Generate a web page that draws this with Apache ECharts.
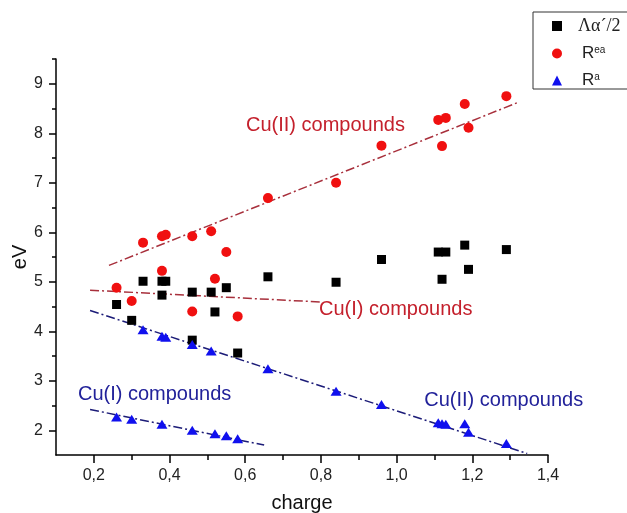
<!DOCTYPE html>
<html>
<head>
<meta charset="utf-8">
<script src="https://cdn.jsdelivr.net/npm/echarts@6/dist/echarts.min.js"></script>
<style>
  html, body { margin: 0; padding: 0; background: #ffffff; }
  #chart { width: 627px; height: 513px; }
</style>
</head>
<body>
<div id="chart"></div>
<script>
// Charge (x) of each compound
const chargeSq = [0.26, 0.30, 0.33, 0.38, 0.39, 0.38, 0.46, 0.46, 0.51, 0.52, 0.55, 0.58, 0.66, 0.84, 0.96, 1.11, 1.13, 1.12, 1.18, 1.19, 1.29];
// Λα´/2 values, eV
const lambdaAlpha = [4.54, 4.22, 5.01, 5.01, 5.01, 4.73, 4.79, 3.82, 4.79, 4.39, 4.88, 3.56, 5.10, 4.99, 5.45, 5.60, 5.60, 5.05, 5.74, 5.25, 5.65];

const chargeRea = [0.26, 0.30, 0.33, 0.38, 0.39, 0.38, 0.46, 0.46, 0.51, 0.52, 0.55, 0.58, 0.66, 0.84, 0.96, 1.11, 1.13, 1.12, 1.18, 1.19, 1.29];
// R^ea values, eV
const rEa = [4.88, 4.61, 5.79, 5.92, 5.95, 5.22, 5.92, 4.40, 6.02, 5.06, 5.60, 4.30, 6.69, 7.00, 7.75, 8.27, 8.31, 7.74, 8.59, 8.11, 8.75];

const chargeRa = [0.26, 0.30, 0.38, 0.46, 0.52, 0.55, 0.58, 0.33, 0.38, 0.39, 0.46, 0.51, 0.66, 0.84, 0.96, 1.11, 1.12, 1.13, 1.18, 1.19, 1.29];
// R^a values, eV
const rA = [2.27, 2.22, 2.12, 2.00, 1.93, 1.89, 1.83, 4.03, 3.90, 3.88, 3.73, 3.60, 3.24, 2.79, 2.52, 2.15, 2.13, 2.12, 2.13, 1.96, 1.73];

// Linear trend lines (end points: charge, eV)
const fitReaCuII = [[0.24, 5.33], [1.32, 8.62]];
const fitReaCuI  = [[0.19, 4.83], [0.80, 4.59]];
const fitRaCuII  = [[0.19, 4.42], [1.345, 1.53]];
const fitRaCuI   = [[0.19, 2.42], [0.65, 1.70]];

// Axis ticks
const xMajor = [0.2, 0.4, 0.6, 0.8, 1.0, 1.2, 1.4];
const xMinor = [0.3, 0.5, 0.7, 0.9, 1.1, 1.3];
const yMajor = [2, 3, 4, 5, 6, 7, 8, 9];
const yMinor = [2.5, 3.5, 4.5, 5.5, 6.5, 7.5, 8.5, 9.5];

// Group annotations: text, anchor (left edge, vertical middle) in data units
const annotations = [
  { text: 'Cu(II) compounds', at: [0.602, 8.16], color: '#c4202c' },
  { text: 'Cu(I) compounds',  at: [0.795, 4.44], color: '#c4202c' },
  { text: 'Cu(I) compounds',  at: [0.158, 2.73], color: '#22229a' },
  { text: 'Cu(II) compounds', at: [1.073, 2.61], color: '#22229a' }
];

const zip = (xs, ys) => xs.map((x, i) => [x, ys[i]]);
const FONT = '"Liberation Sans", Arial, sans-serif';
const RED_LINE = '#a8303c';
const BLUE_LINE = '#1c1c78';
const DASH_DOT = [9, 3, 2, 3];

const chart = echarts.init(document.getElementById('chart'), null, { renderer: 'canvas' });

const baseX = {
  type: 'value', min: 0.1, max: 1.4, interval: 0.1, position: 'bottom',
  splitLine: { show: false }
};
const baseY = {
  type: 'value', min: 1.5, max: 9.5, interval: 0.5, position: 'left',
  splitLine: { show: false }
};

function fitSeries(data, color) {
  return {
    type: 'line', data: data, symbol: 'none', silent: true, z: 1,
    lineStyle: { color: color, width: 1.5, type: DASH_DOT },
    xAxisIndex: 0, yAxisIndex: 0
  };
}

chart.setOption({
  animation: false,
  backgroundColor: '#ffffff',
  grid: { left: 56, right: 79, top: 59, bottom: 58, outerBoundsMode: 'none', containLabel: false },
  xAxis: [
    Object.assign({}, baseX, {
      axisLine: { lineStyle: { color: '#000', width: 1.5 } },
      axisTick: { customValues: xMajor, length: 8, lineStyle: { color: '#000', width: 1.5 } },
      axisLabel: {
        customValues: xMajor, margin: 13, fontSize: 16, color: '#222', fontFamily: FONT,
        formatter: v => v.toFixed(1).replace('.', ',')
      },
      name: 'charge', nameLocation: 'middle', nameGap: 38, nameMoveOverlap: false,
      nameTextStyle: { fontSize: 20, color: '#111', fontFamily: FONT }
    }),
    Object.assign({}, baseX, {
      axisLine: { show: false },
      axisTick: { customValues: xMinor, length: 5, lineStyle: { color: '#000', width: 1.5 } },
      axisLabel: { show: false }
    })
  ],
  yAxis: [
    Object.assign({}, baseY, {
      axisLine: { lineStyle: { color: '#000', width: 1.5 } },
      axisTick: { customValues: yMajor, length: 7, lineStyle: { color: '#000', width: 1.5 } },
      axisLabel: {
        customValues: yMajor, margin: 13, fontSize: 16, color: '#222', fontFamily: FONT,
        formatter: v => String(Math.round(v))
      },
      name: 'eV', nameLocation: 'middle', nameGap: 26, nameRotate: 90, nameMoveOverlap: false,
      nameTextStyle: { fontSize: 20, color: '#111', fontFamily: FONT }
    }),
    Object.assign({}, baseY, {
      axisLine: { show: false },
      axisTick: { customValues: yMinor, length: 4, lineStyle: { color: '#000', width: 1.5 } },
      axisLabel: { show: false }
    })
  ],
  legend: {
    data: ['Λα´/2', 'Rea', 'Ra'],
    orient: 'vertical', left: 552, top: 17,
    itemWidth: 10, itemHeight: 10, itemGap: 10,
    padding: 0,
    formatter: name => {
      if (name === 'Rea') return '{r|R}{sup|ea}';
      if (name === 'Ra') return '{r|R}{sup|a}';
      return '{g|' + name + '}';
    },
    textStyle: {
      padding: [0, 0, 0, 11],
      lineHeight: 16,
      rich: {
        g: { fontFamily: '"Liberation Serif", "DejaVu Serif", serif', fontSize: 18, lineHeight: 16, color: '#222' },
        r: { fontFamily: FONT, fontSize: 17, lineHeight: 16, color: '#222', padding: [0, 0, 0, 4] },
        sup: { fontFamily: FONT, fontSize: 10, lineHeight: 10, color: '#222', verticalAlign: 'top' }
      }
    }
  },
  series: [
    fitSeries(fitReaCuII, RED_LINE),
    fitSeries(fitReaCuI, RED_LINE),
    fitSeries(fitRaCuII, BLUE_LINE),
    fitSeries(fitRaCuI, BLUE_LINE),
    {
      name: 'Λα´/2', type: 'scatter', data: zip(chargeSq, lambdaAlpha),
      symbol: 'rect', symbolSize: 9, itemStyle: { color: '#000000', opacity: 1 }, z: 3
    },
    {
      name: 'Rea', type: 'scatter', data: zip(chargeRea, rEa),
      symbol: 'circle', symbolSize: 10, itemStyle: { color: '#f01010', opacity: 1 }, z: 3
    },
    {
      name: 'Ra', type: 'scatter', data: zip(chargeRa, rA),
      symbol: 'triangle', symbolSize: [11, 9], itemStyle: { color: '#1010ee', opacity: 1 }, z: 3
    }
  ]
});

// Legend frame and group annotations placed through the axis scales
const graphics = [{
  type: 'rect', z: 0, silent: true,
  shape: { x: 533, y: 12, width: 120, height: 77 },
  style: { fill: 'none', stroke: '#333', lineWidth: 1 }
}];
annotations.forEach(a => {
  const p = chart.convertToPixel({ xAxisIndex: 0, yAxisIndex: 0 }, a.at);
  graphics.push({
    type: 'text', silent: true, z: 5, x: p[0], y: p[1],
    style: { text: a.text, fill: a.color, font: '20px ' + FONT, align: 'left', verticalAlign: 'middle' }
  });
});
chart.setOption({ graphic: graphics });
</script>
</body>
</html>
